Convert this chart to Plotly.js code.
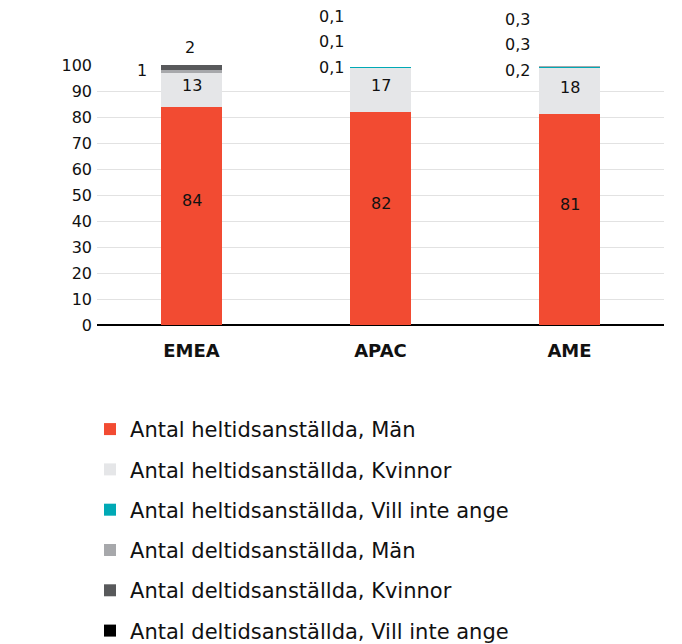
<!DOCTYPE html>
<html><head><meta charset="utf-8">
<script src="https://cdn.plot.ly/plotly-3.0.1.min.js"></script>
<style>body{margin:0;background:#fff}#c{width:682px;height:644px}</style>
</head><body><div id="c"></div>
<script>
const regions = ['EMEA', 'APAC', 'AME'];
const seriesNames = [
  'Antal heltidsanställda, Män',
  'Antal heltidsanställda, Kvinnor',
  'Antal heltidsanställda, Vill inte ange',
  'Antal deltidsanställda, Män',
  'Antal deltidsanställda, Kvinnor',
  'Antal deltidsanställda, Vill inte ange'
];
const ftMen   = [84, 82, 81];
const ftWomen = [13, 17, 18];
const ftNone  = [0, 0.1, 0.2];
const ptMen   = [1, 0.1, 0.3];
const ptWomen = [2, 0.1, 0.3];
const ptNone  = [0, 0, 0];
const yTicks = [0,10,20,30,40,50,60,70,80,90,100];
const colors = ['#f24b32', '#e5e6e8', '#00a9b5', '#a7a8ab', '#58595b', '#000000'];

const allSeries = [ftMen, ftWomen, ftNone, ptMen, ptWomen, ptNone];
const fmt = v => String(v).replace('.', ',');
const FONT = 'DejaVu Sans, Verdana, sans-serif';

const traces = allSeries.map((vals, i) => ({
  type: 'bar', x: regions, y: vals, name: seriesNames[i],
  marker: {color: colors[i], line: {width: 0}},
  hoverinfo: 'skip', legendgroup: 'g' + i
}));

const annotations = [];
const bigShift = [15, 4];
const labelStyle = {
  EMEA: {xs: [-50, -2], ys: [0, 18], anchor: 'center'},
  APAC: {xs: [-35, -35, -35], ys: [0, 26, 50], anchor: 'right'},
  AME:  {xs: [-38, -38, -38], ys: [-3, 22, 46], anchor: 'right'}
};
regions.forEach((r, ri) => {
  let cum = 0, k = 0;
  allSeries.forEach((vals, si) => {
    const v = vals[ri];
    const base = cum;
    cum += v;
    if (v >= 5) {
      annotations.push({
        x: r, y: base + v / 2, xref: 'x', yref: 'y', text: fmt(v), showarrow: false,
        xanchor: 'center', yanchor: 'middle', yshift: bigShift[si] || 0,
        font: {family: FONT, size: 16, color: '#111'}
      });
    } else if (v > 0) {
      const st = labelStyle[r];
      annotations.push({
        x: r, y: cum, xref: 'x', yref: 'y', text: fmt(v), showarrow: false,
        xanchor: st.anchor, yanchor: 'middle', xshift: st.xs[k], yshift: st.ys[k],
        font: {family: FONT, size: 16, color: '#111'}
      });
      k++;
    }
  });
});

const layout = {
  width: 682, height: 644,
  margin: {l: 97, r: 18, t: 65, b: 319, autoexpand: false},
  paper_bgcolor: '#fff', plot_bgcolor: '#fff',
  barmode: 'stack', bargap: 0.68,
  showlegend: true,
  legend: {
    orientation: 'v', x: 0.132, xref: 'container', xanchor: 'left',
    y: 0.365, yref: 'container', yanchor: 'top',
    traceorder: 'grouped', tracegroupgap: 10,
    font: {family: FONT, size: 21, color: '#111'}
  },
  xaxis: {
    tickfont: {family: FONT, size: 18, color: '#111', weight: 'bold'},
    showgrid: false, showline: false, zeroline: false, ticks: '',
    ticklabelstandoff: 13, tickangle: 0
  },
  yaxis: {
    range: [0, 100], tickvals: yTicks, ticktext: yTicks.map(String),
    tickfont: {family: FONT, size: 16, color: '#111'},
    showgrid: true, gridcolor: '#e2e2e2', gridwidth: 1,
    zeroline: true, zerolinecolor: '#000', zerolinewidth: 2,
    showline: false, ticks: '', ticklabelstandoff: 4
  },
  annotations: annotations
};
Plotly.newPlot('c', traces, layout, {displayModeBar: false, staticPlot: true});
</script></body></html>
